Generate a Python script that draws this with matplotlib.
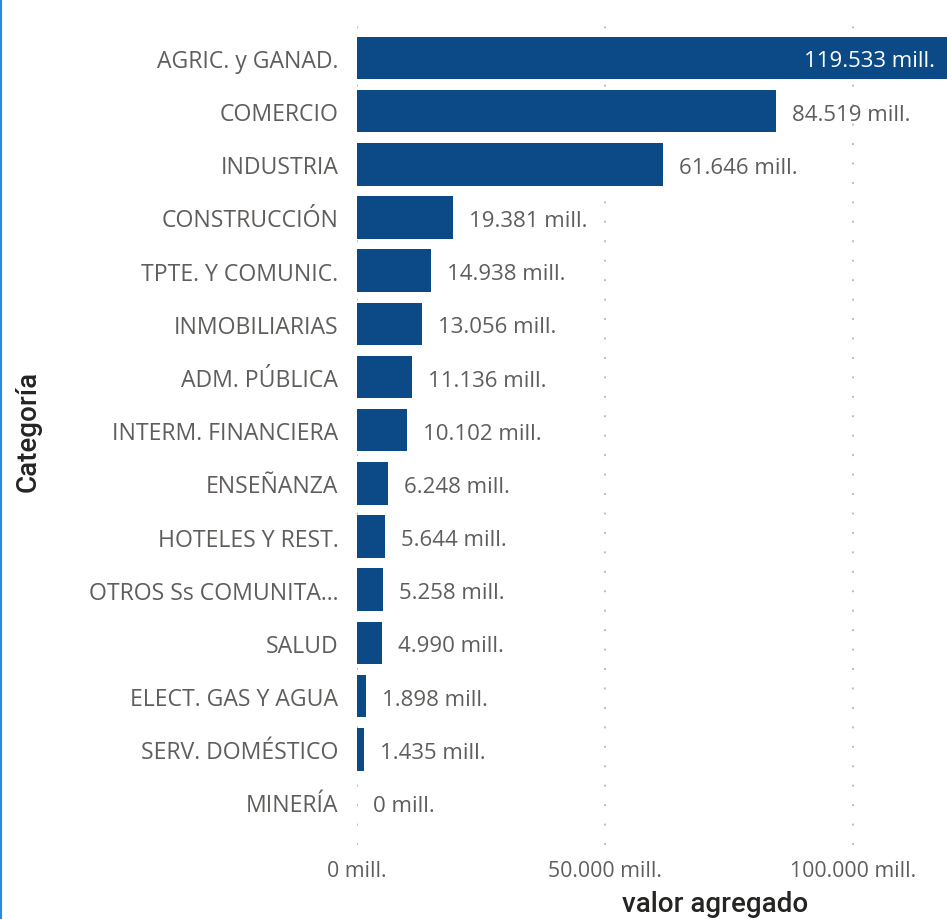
import matplotlib
matplotlib.use("Agg")
import matplotlib.pyplot as plt
from matplotlib.lines import Line2D

categories = ["AGRIC. y GANAD.", "COMERCIO", "INDUSTRIA", "CONSTRUCCIÓN",
              "TPTE. Y COMUNIC.", "INMOBILIARIAS", "ADM. PÚBLICA",
              "INTERM. FINANCIERA", "ENSEÑANZA", "HOTELES Y REST.",
              "OTROS Ss COMUNITA...", "SALUD", "ELECT. GAS Y AGUA",
              "SERV. DOMÉSTICO", "MINERÍA"]
values = [119533, 84519, 61646, 19381, 14938, 13056, 11136, 10102,
          6248, 5644, 5258, 4990, 1898, 1435, 0]
xticks = [0, 50000, 100000]

def fmt(v):
    return f"{v:,.0f}".replace(",", ".") + " mill."

W, H = 947, 920
DPI = 100
fig = plt.figure(figsize=(W / DPI, H / DPI), dpi=DPI)
plt.rcParams['font.family'] = ['Open Sans', 'DejaVu Sans']

ax_left, ax_right = 357, 947
ax_top, ax_bottom = 18, 846
ax = fig.add_axes([ax_left / W, (H - ax_bottom) / H,
                   (ax_right - ax_left) / W, (ax_bottom - ax_top) / H])

xmax = 50000 * (ax_right - ax_left) / 248.0
bar_color = "#0B4A86"
TXT = "#605E5C"
y = list(range(len(categories)))
ax.barh(y, values, height=0.8, color=bar_color, zorder=2)
ax.set_xlim(0, xmax)
ax.set_ylim(14.8, -0.77)

ax.set_yticks(y)
ax.set_yticklabels(categories, fontsize=16.6, color=TXT)
ax.set_xticks(xticks)
ax.set_xticklabels([fmt(t) for t in xticks], fontsize=15.3, color=TXT)
ax.tick_params(axis="y", length=0, pad=13.5)
ax.tick_params(axis="x", length=0, pad=11)
for s in ax.spines.values():
    s.set_visible(False)
ax.grid(axis="x", color="#BDBDBD", linestyle=(0, (1, 9)), linewidth=1.4, zorder=0)
ax.set_axisbelow(True)

FS = 16.0
px_per_val = (ax_right - ax_left) / xmax
for yi, v in zip(y, values):
    label = fmt(v)
    end_px = v * px_per_val
    if end_px + 16 + 140 > (ax_right - ax_left):
        ax.annotate(label, xy=(v, yi), xytext=(-15, -3), textcoords="offset pixels",
                    ha="right", va="center", fontsize=FS, color="white",
                    annotation_clip=False)
    else:
        ax.annotate(label, xy=(v, yi), xytext=(16, -3), textcoords="offset pixels",
                    ha="left", va="center", fontsize=FS, color=TXT,
                    annotation_clip=False)

fig.text(715 / W, 1 - 905 / H, "valor agregado", ha="center", va="center",
         fontsize=20, color="#252423", family=["Roboto", "DejaVu Sans"], fontweight="medium")
fig.text(28 / W, 1 - 431 / H, "Categoría", ha="center", va="center", rotation=90,
         fontsize=20, color="#252423", family=["Roboto", "DejaVu Sans"], fontweight="medium")

fig.add_artist(Line2D([1 / W, 1 / W], [0, 1], transform=fig.transFigure,
                      color="#2B88E0", linewidth=1.5))

fig.savefig("out.png", dpi=DPI)
